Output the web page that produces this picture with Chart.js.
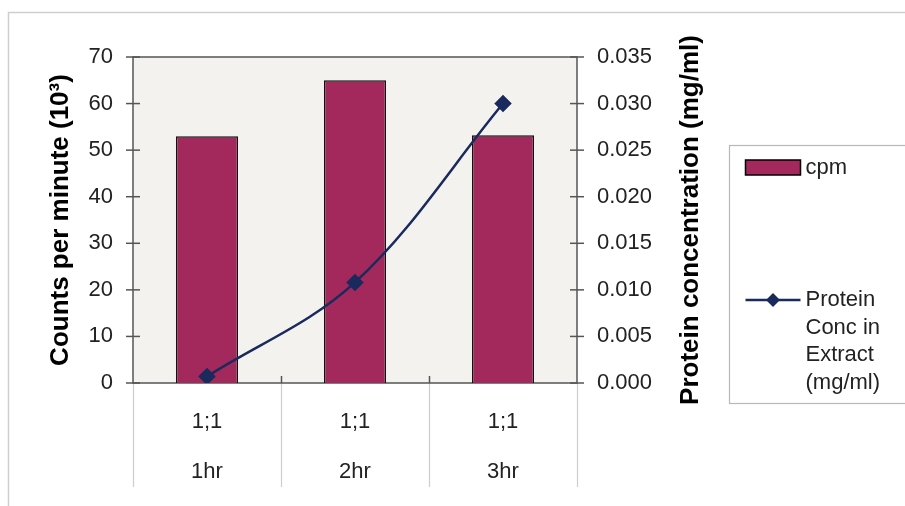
<!DOCTYPE html>
<html>
<head>
<meta charset="utf-8">
<title>cpm / Protein Conc</title>
<script src="https://cdn.jsdelivr.net/npm/chart.js@4.4.1/dist/chart.umd.min.js"></script>
<style>
    body { margin: 0; background: #fff; }
    #graph { display: block; }
</style>
</head>
<body>
<canvas id="graph" width="905" height="506"></canvas>
<script>
// DADOS
const ratios = ["1;1", "1;1", "1;1"];
const times = ["1hr", "2hr", "3hr"];
const cpm = [53, 65, 53.2];
const protein = [0.0007, 0.0108, 0.030];
const cpmAxis = [0, 70, 10];          // min, max, passo
const proteinAxis = [0, 0.035, 0.005];

const FONT = "'Liberation Sans', Arial, sans-serif";
const BAR = "#a3295d";
const LINE = "#1b2a5c";

// fundo, moldura da área do gráfico e marcas dos eixos
const frame = {
    id: "frame",
    beforeDraw(chart) {
        const { ctx, chartArea: a, width, height } = chart;
        ctx.save();
        ctx.fillStyle = "#fff";
        ctx.fillRect(0, 0, width, height);
        ctx.strokeStyle = "#cfcfcf";
        ctx.lineWidth = 1.5;
        ctx.strokeRect(8.5, 12.5, width, height);
        ctx.fillStyle = "#f3f2ee";
        ctx.fillRect(a.left, a.top, a.width, a.height);
        ctx.restore();
    },
    beforeDatasetsDraw(chart) {
        const { ctx, chartArea: a, scales } = chart;
        const line = (x1, y1, x2, y2) => {
            ctx.beginPath();
            ctx.moveTo(x1, y1);
            ctx.lineTo(x2, y2);
            ctx.stroke();
        };
        ctx.save();
        // linhas das categorias abaixo do eixo
        const n = scales.x.ticks.length;
        const w = a.width / n;
        ctx.strokeStyle = "#cdcdcd";
        ctx.lineWidth = 1.2;
        for (let i = 0; i <= n; i++) {
            const bx = Math.round(a.left + i * w) + 0.5;
            line(bx, a.bottom, bx, a.bottom + 104);
        }
        ctx.strokeStyle = "#555";
        ctx.lineWidth = 1.5;
        for (let i = 1; i < n; i++) {
            const bx = Math.round(a.left + i * w) + 0.5;
            line(bx, a.bottom - 7, bx, a.bottom);
        }
        ctx.strokeRect(a.left, a.top, a.width, a.height);
        scales.y.ticks.forEach((t, i) => {
            const p = scales.y.getPixelForTick(i);
            line(a.left - 7, p, a.left + 7, p);
        });
        scales.y1.ticks.forEach((t, i) => {
            const p = scales.y1.getPixelForTick(i);
            line(a.right - 7, p, a.right + 7, p);
        });
        ctx.restore();
    },
    afterDraw(chart) {
        const { ctx, chartArea: a, scales, width } = chart;
        const y1 = scales.y1;
        ctx.save();

        // título do eixo direito, lido de baixo para cima
        const t = y1.options.title;
        ctx.translate(y1.right - 38, (a.top + a.bottom) / 2);
        ctx.rotate(-Math.PI / 2);
        ctx.font = "bold 26px " + FONT;
        ctx.fillStyle = "#000";
        ctx.textAlign = "center";
        ctx.textBaseline = "middle";
        ctx.fillText(t.text, 0, 0);
        ctx.setTransform(1, 0, 0, 1, 0, 0);

        // LEGENDA
        const lx = y1.right + 0.5;
        ctx.fillStyle = "#fff";
        ctx.fillRect(lx, 145.5, width, 258);
        ctx.strokeStyle = "#b8b8b8";
        ctx.lineWidth = 1.2;
        ctx.strokeRect(lx, 145.5, width, 258);

        ctx.font = "22px " + FONT;
        ctx.fillStyle = "#222";
        ctx.textAlign = "left";
        ctx.textBaseline = "middle";

        const [bars, curve] = chart.data.datasets;
        ctx.fillStyle = bars.backgroundColor;
        ctx.fillRect(lx + 16, 160, 55, 15);
        ctx.strokeStyle = "#000";
        ctx.lineWidth = 1.5;
        ctx.strokeRect(lx + 16, 160, 55, 15);
        ctx.fillStyle = "#222";
        ctx.fillText(bars.label, lx + 76, 168);

        ctx.strokeStyle = curve.borderColor;
        ctx.lineWidth = 2.5;
        ctx.beginPath();
        ctx.moveTo(lx + 16, 300);
        ctx.lineTo(lx + 71, 300);
        ctx.stroke();
        const cx = lx + 43.5, r = 7;
        ctx.fillStyle = curve.pointBackgroundColor;
        ctx.beginPath();
        ctx.moveTo(cx, 300 - r);
        ctx.lineTo(cx + r, 300);
        ctx.lineTo(cx, 300 + r);
        ctx.lineTo(cx - r, 300);
        ctx.closePath();
        ctx.fill();

        // quebra o rótulo em linhas
        const rows = [];
        let cur = "";
        curve.label.split(" ").forEach((word) => {
            const next = cur ? cur + " " + word : word;
            if (cur && ctx.measureText(next).width > 100) {
                rows.push(cur);
                cur = word;
            } else {
                cur = next;
            }
        });
        rows.push(cur);
        ctx.fillStyle = "#222";
        rows.forEach((row, i) => ctx.fillText(row, lx + 76, 300 + i * 27.5));

        ctx.restore();
    },
};

// CONSTRUIR GRÁFICO
const ctx = document.getElementById("graph");
new Chart(ctx, {
    type: "bar",
    data: {
        labels: ratios.map((r, i) => [r, times[i]]),
        datasets: [
            {
                type: "bar",
                label: "cpm",
                data: cpm,
                yAxisID: "y",
                backgroundColor: BAR,
                borderColor: "#111",
                borderWidth: 1.5,
                categoryPercentage: 1,
                barPercentage: 0.42,
                order: 1,
            },
            {
                type: "line",
                label: "Protein Conc in Extract (mg/ml)",
                data: protein,
                yAxisID: "y1",
                borderColor: LINE,
                borderWidth: 2.5,
                tension: 0.35,
                pointStyle: "rectRot",
                pointRadius: 7,
                pointBackgroundColor: LINE,
                pointBorderColor: LINE,
                order: 0,
            },
        ],
    },
    options: {
        responsive: false,
        animation: false,
        layout: {
            padding: { top: 57, right: 176, left: 0, bottom: 0 },
        },
        plugins: {
            legend: { display: false },
            tooltip: { enabled: false },
        },
        scales: {
            x: {
                grid: { display: false, drawTicks: false },
                border: { display: false },
                ticks: {
                    color: "#222",
                    padding: 14,
                    font: { size: 22, family: FONT, lineHeight: "50px" },
                },
                afterFit: (s) => { s.height = 123; },
            },
            y: {
                position: "left",
                min: cpmAxis[0],
                max: cpmAxis[1],
                grid: { display: false, drawTicks: false },
                border: { display: false },
                ticks: {
                    stepSize: cpmAxis[2],
                    color: "#222",
                    padding: 20,
                    font: { size: 22, family: FONT },
                },
                title: {
                    display: true,
                    text: "Counts per minute (10³)",
                    color: "#000",
                    padding: { top: 45, bottom: 0 },
                    font: { size: 26, weight: "bold", family: FONT },
                },
                afterFit: (s) => { s.width = 133; },
            },
            y1: {
                position: "right",
                min: proteinAxis[0],
                max: proteinAxis[1],
                grid: { display: false, drawTicks: false },
                border: { display: false },
                ticks: {
                    stepSize: proteinAxis[2],
                    color: "#222",
                    padding: 20,
                    font: { size: 22, family: FONT },
                    callback: (v) => v.toFixed(3),
                },
                title: {
                    display: false,
                    text: "Protein concentration (mg/ml)",
                },
                afterFit: (s) => { s.width = 152; },
            },
        },
    },
    plugins: [frame],
});
</script>
</body>
</html>
